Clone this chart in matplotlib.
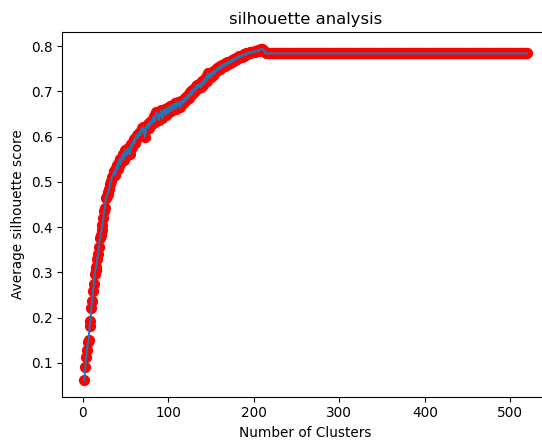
import numpy as np
import matplotlib
matplotlib.use("Agg")
import matplotlib.pyplot as plt

# silhouette score for each number of clusters
scores_start = [0.062, 0.090, 0.112, 0.128, 0.146, 0.150, 0.182, 0.193, 0.222, 0.236,
                0.260, 0.275, 0.296, 0.306, 0.312, 0.330, 0.341, 0.356, 0.377, 0.382,
                0.393, 0.404, 0.421, 0.436, 0.443, 0.465, 0.468, 0.473, 0.478, 0.485,
                0.496, 0.502, 0.510, 0.513]
scores_mid = [0.519, 0.524, 0.516, 0.531, 0.537, 0.528, 0.545, 0.551, 0.539, 0.548,
              0.556, 0.562, 0.549, 0.566, 0.571, 0.558, 0.563, 0.574, 0.569, 0.561,
              0.575, 0.583, 0.578, 0.589, 0.594, 0.586, 0.598, 0.604, 0.597, 0.601,
              0.609, 0.603, 0.612, 0.618, 0.611, 0.621, 0.606, 0.600, 0.617, 0.624,
              0.627, 0.619, 0.631, 0.625, 0.634, 0.629, 0.638, 0.645, 0.632, 0.641,
              0.654, 0.643, 0.648, 0.637, 0.652, 0.646, 0.658, 0.641, 0.650, 0.655,
              0.661, 0.648, 0.657, 0.664, 0.652, 0.659, 0.668, 0.656, 0.663, 0.671,
              0.660, 0.666, 0.674, 0.662, 0.669, 0.677, 0.668, 0.673, 0.665, 0.679,
              0.672, 0.681, 0.676, 0.685, 0.679, 0.688, 0.683, 0.692, 0.686, 0.695,
              0.699, 0.691, 0.704, 0.697, 0.706, 0.701, 0.711, 0.705, 0.714, 0.708,
              0.716, 0.712, 0.709, 0.719, 0.722, 0.715, 0.726, 0.720, 0.731, 0.724,
              0.740, 0.729, 0.733, 0.738, 0.731, 0.742, 0.736, 0.745, 0.739, 0.748,
              0.744, 0.751, 0.747, 0.753, 0.749, 0.756, 0.752, 0.758, 0.755, 0.760,
              0.757, 0.762, 0.759, 0.764, 0.761, 0.766, 0.763, 0.768, 0.765, 0.770,
              0.767, 0.772, 0.770, 0.774, 0.771, 0.776, 0.774, 0.778, 0.776, 0.779,
              0.777, 0.781, 0.779, 0.782, 0.780, 0.784, 0.782, 0.785, 0.784, 0.786,
              0.785, 0.787, 0.786, 0.788, 0.787, 0.789, 0.788, 0.790, 0.789, 0.791,
              0.790, 0.792, 0.793, 0.794, 0.794, 0.792, 0.789, 0.786, 0.784, 0.784]
# flat part from 216 clusters on
scores_flat = [
    0.784, 0.784, 0.784, 0.784, 0.784, 0.784, 0.784, 0.784, 0.784, 0.784, 0.784, 0.784, 0.784, 0.784, 0.784, 0.784,
    0.784, 0.784, 0.784, 0.784, 0.784, 0.784, 0.784, 0.784, 0.784, 0.784, 0.784, 0.784, 0.784, 0.784, 0.784, 0.784,
    0.784, 0.784, 0.784, 0.784, 0.784, 0.784, 0.784, 0.784, 0.784, 0.784, 0.784, 0.784, 0.784, 0.784, 0.784, 0.784,
    0.784, 0.784, 0.784, 0.784, 0.784, 0.784, 0.784, 0.784, 0.784, 0.784, 0.784, 0.784, 0.784, 0.784, 0.784, 0.784,
    0.784, 0.784, 0.784, 0.784, 0.784, 0.784, 0.784, 0.784, 0.784, 0.784, 0.784, 0.784, 0.784, 0.784, 0.784, 0.784,
    0.784, 0.784, 0.784, 0.784, 0.784, 0.784, 0.784, 0.784, 0.784, 0.784, 0.784, 0.784, 0.784, 0.784, 0.784, 0.784,
    0.784, 0.784, 0.784, 0.784, 0.784, 0.784, 0.784, 0.784, 0.784, 0.784, 0.784, 0.784, 0.784, 0.784, 0.784, 0.784,
    0.784, 0.784, 0.784, 0.784, 0.784, 0.784, 0.784, 0.784, 0.784, 0.784, 0.784, 0.784, 0.784, 0.784, 0.784, 0.784,
    0.784, 0.784, 0.784, 0.784, 0.784, 0.784, 0.784, 0.784, 0.784, 0.784, 0.784, 0.784, 0.784, 0.784, 0.784, 0.784,
    0.784, 0.784, 0.784, 0.784, 0.784, 0.784, 0.784, 0.784, 0.784, 0.784, 0.784, 0.784, 0.784, 0.784, 0.784, 0.784,
    0.784, 0.784, 0.784, 0.784, 0.784, 0.784, 0.784, 0.784, 0.784, 0.784, 0.784, 0.784, 0.784, 0.784, 0.784, 0.784,
    0.784, 0.784, 0.784, 0.784, 0.784, 0.784, 0.784, 0.784, 0.784, 0.784, 0.784, 0.784, 0.784, 0.784, 0.784, 0.784,
    0.784, 0.784, 0.784, 0.784, 0.784, 0.784, 0.784, 0.784, 0.784, 0.784, 0.784, 0.784, 0.784, 0.784, 0.784, 0.784,
    0.784, 0.784, 0.784, 0.784, 0.784, 0.784, 0.784, 0.784, 0.784, 0.784, 0.784, 0.784, 0.784, 0.784, 0.784, 0.784,
    0.784, 0.784, 0.784, 0.784, 0.784, 0.784, 0.784, 0.784, 0.784, 0.784, 0.784, 0.784, 0.784, 0.784, 0.784, 0.784,
    0.784, 0.784, 0.784, 0.784, 0.784, 0.784, 0.784, 0.784, 0.784, 0.784, 0.784, 0.784, 0.784, 0.784, 0.784, 0.784,
    0.784, 0.784, 0.784, 0.784, 0.784, 0.784, 0.784, 0.784, 0.784, 0.784, 0.784, 0.784, 0.784, 0.784, 0.784, 0.784,
    0.784, 0.784, 0.784, 0.784, 0.784, 0.784, 0.784, 0.784, 0.784, 0.784, 0.784, 0.784, 0.784, 0.784, 0.784, 0.784,
    0.784, 0.784, 0.784, 0.784, 0.784, 0.784, 0.784, 0.784, 0.784, 0.784, 0.784, 0.784, 0.784, 0.784, 0.784, 0.784,
]

scores = scores_start + scores_mid + scores_flat
n_clusters = np.arange(2, 2 + len(scores))

plt.rcParams['font.size'] = 9.8

fig = plt.figure(figsize=(5.42, 4.41), dpi=100)
ax = fig.add_axes([0.115, 0.1005, 0.8974, 0.8263])

ax.scatter(n_clusters, scores, color='red', s=50)
ax.plot(n_clusters, scores, linewidth=1.5)

ax.set_title("silhouette analysis", fontsize=11.8)
ax.set_xlabel("Number of Clusters")
ax.set_ylabel("Average silhouette score")

fig.savefig("out.png", dpi=100)
